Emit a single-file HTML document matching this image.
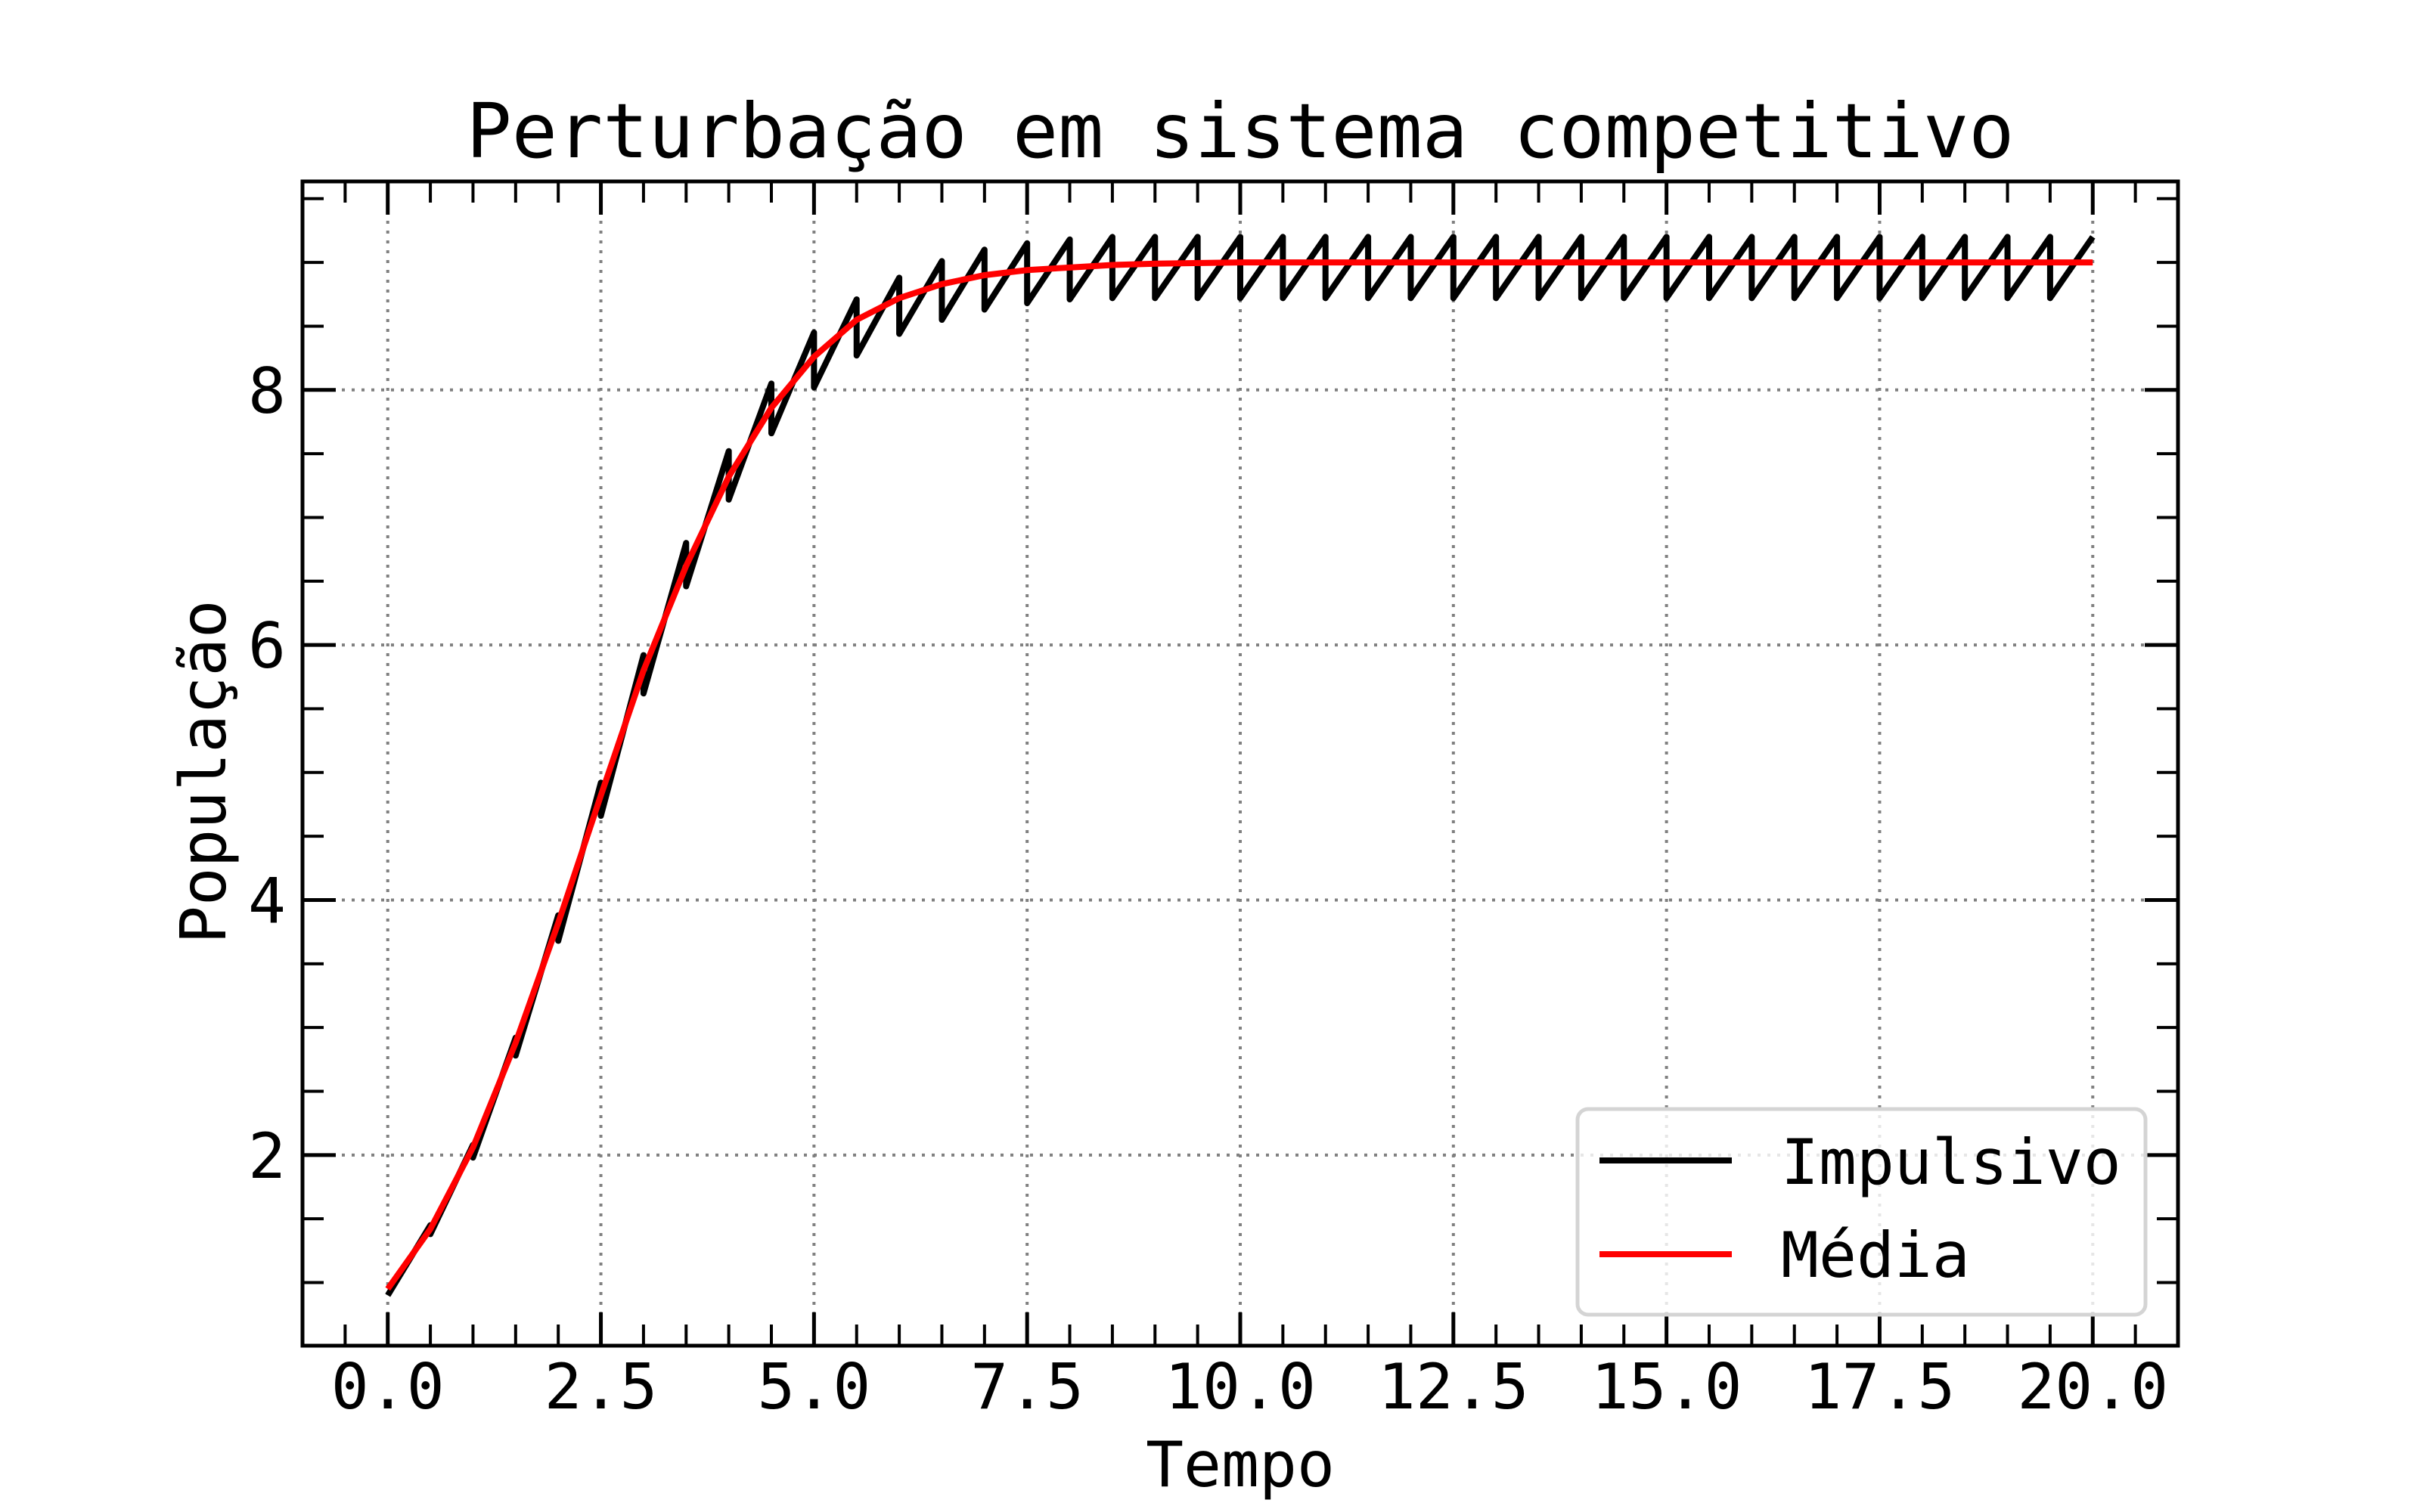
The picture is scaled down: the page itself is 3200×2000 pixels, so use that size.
<!DOCTYPE html>
<html><head><meta charset="utf-8"><style>
html,body{margin:0;padding:0;background:#fff}
svg{display:block}
text{font-family:"DejaVu Sans Mono","Liberation Mono",monospace;fill:#000}
</style></head><body>
<svg id="chart" width="3200" height="2000" viewBox="0 0 3200 2000" xmlns="http://www.w3.org/2000/svg">
<rect width="3200" height="2000" fill="#fff"/>
<g id="grid"></g>
<g id="series"></g>
<g id="ticks"></g>
<rect x="400" y="240" width="2480" height="1540" fill="none" stroke="#000" stroke-width="5"/>
<text x="1640" y="208" font-size="100" text-anchor="middle">Perturbação em sistema competitivo</text>
<text x="1640" y="1966" font-size="83" text-anchor="middle">Tempo</text>
<text transform="translate(298,1021) rotate(-90)" font-size="84" text-anchor="middle">População</text>
<g>
<rect x="2086" y="1467" width="751" height="272" rx="14" fill="#fff" fill-opacity="0.8" stroke="#d4d4d4" stroke-width="5"/>
<line x1="2115" y1="1535" x2="2290" y2="1535" stroke="#000" stroke-width="8"/>
<text x="2355" y="1566" font-size="83">Impulsivo</text>
<line x1="2115" y1="1659" x2="2290" y2="1659" stroke="#ff0000" stroke-width="8"/>
<text x="2355" y="1689" font-size="83">Média</text>
</g>
</svg>
<script>
const impulseTimes=[0,0.5,1,1.5,2,2.5,3,3.5,4,4.5,5,5.5,6,6.5,7,7.5,8,8.5,9,9.5,10,10.5,11,11.5,12,12.5,13,13.5,14,14.5,15,15.5,16,16.5,17,17.5,18,18.5,19,19.5,20];
const peakValues=[0.9,1.45,2.08,2.92,3.88,4.92,5.92,6.8,7.52,8.05,8.45,8.71,8.88,9.01,9.1,9.15,9.18,9.2,9.2,9.2,9.2,9.2,9.2,9.2,9.2,9.2,9.2,9.2,9.2,9.2,9.2,9.2,9.2,9.2,9.2,9.2,9.2,9.2,9.2,9.2,9.2];
const troughValues=[0.9,1.38,1.98,2.78,3.68,4.66,5.62,6.46,7.14,7.66,8.02,8.27,8.44,8.55,8.63,8.68,8.71,8.72,8.72,8.72,8.72,8.72,8.72,8.72,8.72,8.72,8.72,8.72,8.72,8.72,8.72,8.72,8.72,8.72,8.72,8.72,8.72,8.72,8.72,8.72,8.72];
const meanTimes=[0,0.5,1,1.5,2,2.5,3,3.5,4,4.5,5,5.5,6,6.5,7,7.5,8,8.5,9,10,12,14,16,18,20];
const meanValues=[0.95,1.42,2.06,2.88,3.82,4.82,5.8,6.62,7.32,7.86,8.26,8.55,8.72,8.83,8.9,8.94,8.96,8.98,8.99,9.0,9.0,9.0,9.0,9.0,9.0];
const xTickLabels=["0.0","2.5","5.0","7.5","10.0","12.5","15.0","17.5","20.0"];
const yTickLabels=["2","4","6","8"];
const NS="http://www.w3.org/2000/svg";
const X0=400,X1=2880,Y0=1780,Y1=240,xmin=-1,xmax=21,ymin=0.505,ymax=9.635;
function xs(v){return X0+(v-xmin)/(xmax-xmin)*(X1-X0);}
function ys(v){return Y0-(v-ymin)/(ymax-ymin)*(Y0-Y1);}
function mk(tag,attrs,parent){const e=document.createElementNS(NS,tag);for(const k in attrs)e.setAttribute(k,attrs[k]);parent.appendChild(e);return e;}
const grid=document.getElementById('grid'),ticks=document.getElementById('ticks'),series=document.getElementById('series');
for(let i=0;i<xTickLabels.length;i++){const v=parseFloat(xTickLabels[i]);const x=xs(v);
 const g=mk('line',{x1:x,y1:Y1,x2:x,y2:Y0,stroke:'#808080','stroke-width':4,'stroke-dasharray':'4 9'},grid);
 
 
 [[Y0,Y0-44],[Y1,Y1+44]].forEach(p=>{const t=mk('line',{x1:x,y1:p[0],x2:x,y2:p[1],stroke:'#000','stroke-width':5},ticks);
 
 });
 const tx=mk('text',{x:x,y:1863,'font-size':83,'text-anchor':'middle'},ticks);tx.textContent=xTickLabels[i];
 
 }
for(let v=-0.5;v<=20.6;v+=0.5){if(Math.abs(v/2.5-Math.round(v/2.5))<1e-6)continue;const x=xs(v);
 [[Y0,Y0-28],[Y1,Y1+28]].forEach(p=>{const t=mk('line',{x1:x,y1:p[0],x2:x,y2:p[1],stroke:'#000','stroke-width':4},ticks);
 
 });}
for(let i=0;i<yTickLabels.length;i++){const v=parseFloat(yTickLabels[i]);const y=ys(v);
 const g=mk('line',{x1:X0,y1:y,x2:X1,y2:y,stroke:'#808080','stroke-width':4,'stroke-dasharray':'4 9'},grid);
 
 
 [[X0,X0+44],[X1,X1-44]].forEach(p=>{const t=mk('line',{x1:p[0],y1:y,x2:p[1],y2:y,stroke:'#000','stroke-width':5},ticks);
 
 });
 const tx=mk('text',{x:378,y:y+30,'font-size':83,'text-anchor':'end'},ticks);tx.textContent=yTickLabels[i];
 
 }
for(let v=1;v<=9.5;v+=0.5){if(Math.abs(v/2-Math.round(v/2))<1e-6)continue;const y=ys(v);
 [[X0,X0+28],[X1,X1-28]].forEach(p=>{const t=mk('line',{x1:p[0],y1:y,x2:p[1],y2:y,stroke:'#000','stroke-width':4},ticks);
 
 });}
let d='M'+xs(impulseTimes[0])+','+ys(troughValues[0]);
for(let i=1;i<impulseTimes.length;i++){const x=xs(impulseTimes[i]);d+=' L'+x+','+ys(peakValues[i]);if(i<impulseTimes.length-1)d+=' L'+x+','+ys(troughValues[i]);}
const pb=mk('path',{d:d,fill:'none',stroke:'#000','stroke-width':8,'stroke-linejoin':'round'},series);


let d2='';for(let i=0;i<meanTimes.length;i++){d2+=(i?' L':'M')+xs(meanTimes[i])+','+ys(meanValues[i]);}
const pr=mk('path',{d:d2,fill:'none',stroke:'#ff0000','stroke-width':8,'stroke-linejoin':'round'},series);


</script>
</body></html>
